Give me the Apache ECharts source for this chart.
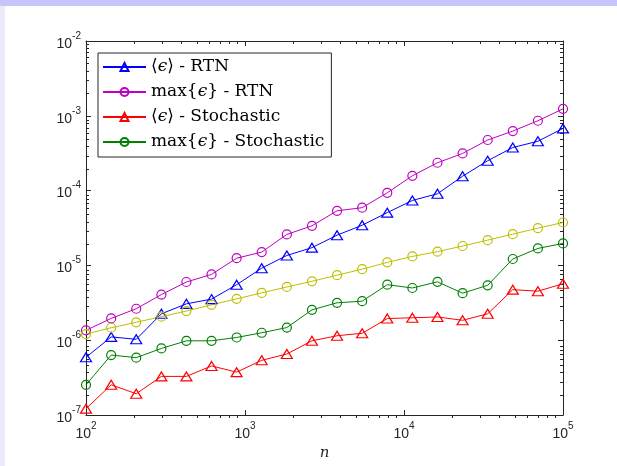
<!DOCTYPE html>
<html>
<head>
<meta charset="utf-8">
<script src="https://cdn.jsdelivr.net/npm/echarts@6/dist/echarts.min.js"></script>
<style>
  html, body { margin: 0; padding: 0; background: #fff; }
  .frame { position: relative; width: 617px; height: 466px; overflow: hidden; background: #fff; }
  .band-top { position: absolute; left: 0; top: 0; width: 617px; height: 6px; background: #c6c6fc; }
  .band-left { position: absolute; left: 0; top: 0; width: 5px; height: 466px; background: #ebebfa; }
  #chart { position: absolute; left: 0; top: 0; width: 617px; height: 466px; }
</style>
</head>
<body>
<div class="frame">
  <div class="band-left"></div>
  <div class="band-top"></div>
  <div id="chart"></div>
</div>
<script>
// problem size n (20 log-spaced points)
const nValues = [100, 144, 207, 298, 428, 616, 886, 1274, 1833, 2637,
  3793, 5456, 7848, 11288, 16238, 23357, 33598, 48329, 69519, 100000]

// errors
const meanRTN = [5.92e-7, 1.11e-6, 1.03e-6, 2.26e-6, 3.07e-6, 3.55e-6, 5.53e-6, 9.20e-6, 1.36e-5, 1.73e-5,
  2.54e-5, 3.45e-5, 5.08e-5, 7.40e-5, 9.08e-5, 1.56e-4, 2.51e-4, 3.77e-4, 4.57e-4, 6.79e-4]
const maxRTN = [1.36e-6, 1.96e-6, 2.64e-6, 4.08e-6, 6.01e-6, 7.60e-6, 1.25e-5, 1.51e-5, 2.60e-5, 3.39e-5,
  5.37e-5, 5.92e-5, 9.35e-5, 1.58e-4, 2.36e-4, 3.14e-4, 4.75e-4, 6.25e-4, 8.59e-4, 1.24e-3]
const meanStoch = [1.22e-7, 2.54e-7, 1.93e-7, 3.29e-7, 3.29e-7, 4.54e-7, 3.75e-7, 5.40e-7, 6.55e-7, 9.84e-7,
  1.15e-6, 1.24e-6, 1.95e-6, 2.00e-6, 2.05e-6, 1.85e-6, 2.26e-6, 4.75e-6, 4.53e-6, 5.70e-6]
const maxStoch = [2.54e-7, 6.35e-7, 5.86e-7, 7.78e-7, 9.84e-7, 9.84e-7, 1.09e-6, 1.26e-6, 1.48e-6, 2.55e-6,
  3.17e-6, 3.33e-6, 5.53e-6, 5.00e-6, 6.04e-6, 4.26e-6, 5.43e-6, 1.22e-5, 1.69e-5, 1.97e-5]
const refLine = [1.21e-6, 1.47e-6, 1.74e-6, 2.07e-6, 2.46e-6, 2.98e-6, 3.58e-6, 4.30e-6, 5.16e-6, 6.14e-6,
  7.41e-6, 8.91e-6, 1.10e-5, 1.32e-5, 1.53e-5, 1.82e-5, 2.18e-5, 2.62e-5, 3.15e-5, 3.75e-5]

// axis decades (exponents)
const xDecades = [2, 3, 4, 5]
const yDecades = [-7, -6, -5, -4, -3, -2]

const axisColor = '#262626'
const gridBox = { left: 86, top: 41, width: 477, height: 377 }

// minor ticks at 2..9 inside each decade
const minorTicks = (decades) => {
  const out = []
  for (let i = 0; i < decades.length - 1; i++) {
    for (let m = 2; m <= 9; m++) out.push(decades[i] + Math.log10(m))
  }
  return out
}

const powLabel = (v) => '{b|10}{s|' + Math.round(v) + '}'
const labelRich = {
  b: { fontFamily: 'Liberation Sans', fontSize: 14, color: axisColor, lineHeight: 20, verticalAlign: 'bottom' },
  s: { fontFamily: 'Liberation Sans', fontSize: 10, color: axisColor, lineHeight: 12, verticalAlign: 'top' }
}

const toPoints = (ys) => ys.map((y, i) => [Math.log10(nValues[i]), Math.log10(y)])

const makeSeries = (name, ys, color, symbol) => ({
  name,
  type: 'line',
  data: toPoints(ys),
  xAxisIndex: 0,
  yAxisIndex: 0,
  clip: false,
  symbol,
  symbolSize: symbol === 'triangle' ? [11, 9] : 9,
  showAllSymbol: true,
  lineStyle: { color, width: 1 },
  itemStyle: { color: 'rgba(0,0,0,0)', borderColor: color, borderWidth: 1.2 },
  emphasis: { disabled: true },
  animation: false
})

const majorX = (position, showLabel) => ({
  type: 'value', gridIndex: 0, position, min: xDecades[0], max: xDecades[xDecades.length - 1], interval: 1,
  name: showLabel ? 'n' : '',
  nameLocation: 'middle', nameGap: 30,
  nameTextStyle: { fontFamily: 'DejaVu Serif', fontStyle: 'italic', fontSize: 15, color: axisColor },
  axisLine: { show: true, lineStyle: { color: axisColor, width: 1 } },
  axisTick: { show: true, inside: true, length: 5, lineStyle: { color: axisColor } },
  axisLabel: { show: showLabel, margin: 6, formatter: powLabel, rich: labelRich },
  splitLine: { show: false }
})
const minorX = (position) => ({
  type: 'value', gridIndex: 1, position, min: xDecades[0], max: xDecades[xDecades.length - 1],
  axisLine: { show: false },
  axisTick: { show: true, inside: true, length: 3, customValues: minorTicks(xDecades), lineStyle: { color: axisColor } },
  axisLabel: { show: false },
  splitLine: { show: false }
})
const majorY = (position, showLabel) => ({
  type: 'value', gridIndex: 0, position, min: yDecades[0], max: yDecades[yDecades.length - 1], interval: 1,
  axisLine: { show: true, lineStyle: { color: axisColor, width: 1 } },
  axisTick: { show: true, inside: true, length: 5, lineStyle: { color: axisColor } },
  axisLabel: { show: showLabel, margin: 5, formatter: powLabel, rich: labelRich },
  splitLine: { show: false }
})
const minorY = (position) => ({
  type: 'value', gridIndex: 1, position, min: yDecades[0], max: yDecades[yDecades.length - 1],
  axisLine: { show: false },
  axisTick: { show: true, inside: true, length: 3, customValues: minorTicks(yDecades), lineStyle: { color: axisColor } },
  axisLabel: { show: false },
  splitLine: { show: false }
})

const legendText = {
  'meanRTN': '⟨{i|ϵ}⟩ - RTN',
  'maxRTN': 'max{{i|ϵ}} - RTN',
  'meanStoch': '⟨{i|ϵ}⟩ - Stochastic',
  'maxStoch': 'max{{i|ϵ}} - Stochastic'
}

const myChart = echarts.init(document.getElementById('chart'), null, { renderer: 'canvas' })

const option = {
  animation: false,
  grid: [
    Object.assign({ containLabel: false }, gridBox),
    Object.assign({ containLabel: false }, gridBox)
  ],
  xAxis: [majorX('bottom', true), majorX('top', false), minorX('bottom'), minorX('top')],
  yAxis: [majorY('left', true), majorY('right', false), minorY('left'), minorY('right')],
  legend: {
    data: ['meanRTN', 'maxRTN', 'meanStoch', 'maxStoch'],
    orient: 'vertical',
    left: 98,
    top: 53,
    padding: [4, 7, 5, 4],
    itemGap: 5,
    itemWidth: 43,
    itemHeight: 10,
    backgroundColor: '#fff',
    borderColor: axisColor,
    borderWidth: 1,
    selectedMode: false,
    formatter: (name) => legendText[name],
    textStyle: {
      fontFamily: 'DejaVu Serif',
      fontSize: 17,
      lineHeight: 20,
      color: '#000',
      rich: {
        i: { fontFamily: 'DejaVu Serif', fontStyle: 'italic', fontSize: 17, color: '#000' }
      }
    }
  },
  series: [
    makeSeries('meanRTN', meanRTN, '#0000ff', 'triangle'),
    makeSeries('maxRTN', maxRTN, '#bf00bf', 'circle'),
    makeSeries('meanStoch', meanStoch, '#ff0000', 'triangle'),
    makeSeries('maxStoch', maxStoch, '#008000', 'circle'),
    makeSeries('reference', refLine, '#bfbf00', 'circle')
  ]
}

myChart.setOption(option)
</script>
</body>
</html>
